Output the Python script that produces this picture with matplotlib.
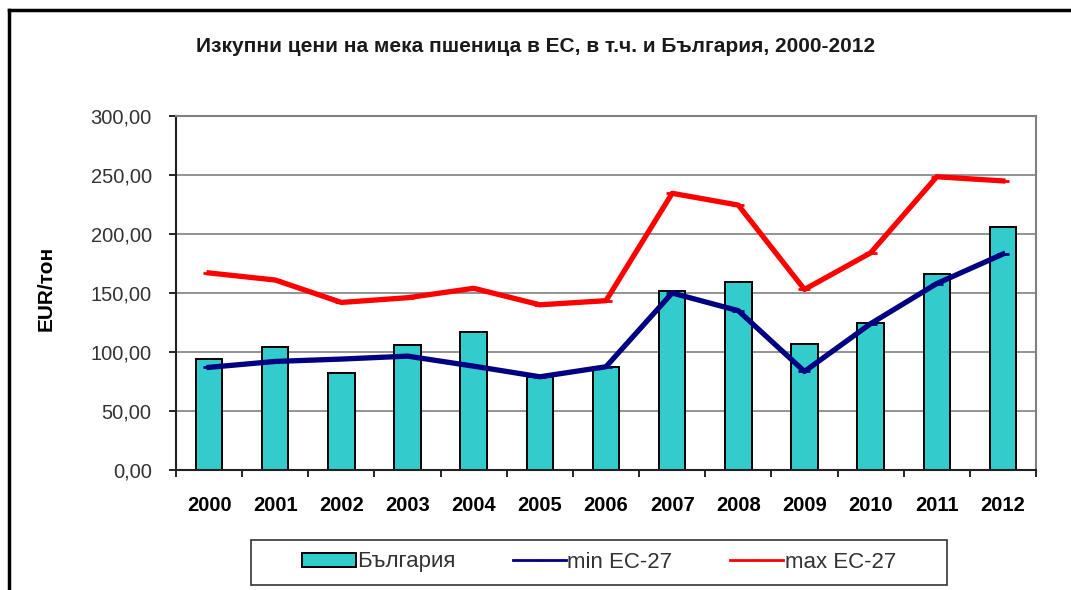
import matplotlib.pyplot as plt
from matplotlib.lines import Line2D
from matplotlib.patches import Rectangle
from matplotlib.ticker import FuncFormatter
import numpy as np

plt.rcParams['font.family'] = ['Liberation Sans', 'DejaVu Sans']

# данни
years = ['2000', '2001', '2002', '2003', '2004', '2005', '2006',
         '2007', '2008', '2009', '2010', '2011', '2012']
bulgaria = [94, 104, 82, 106, 117, 79, 87, 152, 159, 107, 125, 166, 206]
min_eu = [87, 92, 94, 96.5, 88, 79, 87.5, 150, 135, 83.5, 124, 158, 183]
max_eu = [167, 161, 142, 146, 154, 140, 143.5, 234.5, 224.5, 153, 184, 248.5, 245]

title = 'Изкупни цени на мека пшеница в ЕС, в т.ч. и България, 2000-2012'

W, H = 1071, 590
fig = plt.figure(figsize=(W / 100, H / 100), dpi=100)
ax = fig.add_axes([176 / W, 1 - 470 / H, 860 / W, 354 / H])

x = np.arange(len(years))
ax.bar(x, bulgaria, width=0.4, color='#33CCCC', edgecolor='black',
       linewidth=1.4, zorder=2, label='България')
ax.plot(x, min_eu, color='#000080', lw=3.8, marker='_', ms=9, mew=2,
        zorder=3, label='min ЕС-27')
ax.plot(x, max_eu, color='#FF0000', lw=3.8, marker='_', ms=9, mew=2,
        zorder=3, label='max ЕС-27')

ax.set_xlim(-0.5, len(years) - 0.5)
ax.set_ylim(0, 300)
ax.set_yticks(np.arange(0, 301, 50))
ax.yaxis.set_major_formatter(FuncFormatter(lambda v, p: f'{v:.2f}'.replace('.', ',')))
ax.grid(axis='y', color='#808080', lw=1.2, zorder=0)

# категориите - етикети в средата, чертичките между тях
ax.set_xticks(x)
ax.set_xticklabels(years, fontweight='bold', fontsize=14.5)
ax.tick_params(axis='x', which='major', length=0, pad=19)
ax.set_xticks(np.arange(-0.5, len(years), 1), minor=True)
ax.tick_params(axis='x', which='minor', length=5, width=1.2, direction='out')
ax.tick_params(axis='y', length=5, width=1.2, labelsize=14.5, labelcolor='#333333', pad=12.5)

for side in ['left', 'bottom']:
    ax.spines[side].set_color('#222222')
    ax.spines[side].set_linewidth(1.5)
for side in ['top', 'right']:
    ax.spines[side].set_color('#808080')
    ax.spines[side].set_linewidth(1.5)

fig.text(46 / W, 1 - 288 / H, 'EUR/тон', rotation=90, ha='center', va='center',
         fontsize=15, fontweight='bold')

fig.text(536 / W, 1 - 46 / H, title, ha='center', va='center',
         fontsize=15, fontweight='bold', color='#1a1a1a')

# легенда
handles = [Rectangle((0, 0), 1, 1, facecolor='#33CCCC', edgecolor='black', lw=1.4),
           Line2D([], [], color='#000080', lw=2, marker='_', ms=5),
           Line2D([], [], color='#FF0000', lw=2, marker='_', ms=5)]
leg = fig.legend(handles, ['България', 'min ЕС-27', 'max ЕС-27'], ncol=3,
                 loc='center', bbox_to_anchor=(599 / W, 1 - 562 / H),
                 fontsize=16, frameon=False, handlelength=2.4,
                 handleheight=0.6, handletextpad=0.05, columnspacing=2.6,
                 labelcolor='#333333')
fig.add_artist(Rectangle((251 / W, 1 - 585 / H), 696 / W, 45 / H, transform=fig.transFigure,
                         facecolor='none', edgecolor='#333333', lw=1.2))

# рамка около цялата диаграма
fig.add_artist(Line2D([9 / W, 9 / W], [0, 1 - 10 / H], color='black', lw=2.5))
fig.add_artist(Line2D([9 / W, 1], [1 - 10 / H, 1 - 10 / H], color='black', lw=2.5))

fig.savefig('out.png', dpi=100)
